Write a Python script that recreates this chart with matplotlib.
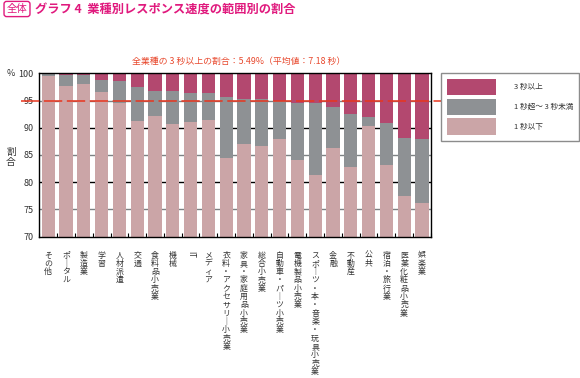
import numpy as np
import matplotlib
matplotlib.use('Agg')
import matplotlib.pyplot as plt

plt.rcParams['font.family'] = ['Noto Sans CJK JP', 'DejaVu Sans']

# data (percent)
categories = ['その他', 'ポータル', '製造業', '学習', '人材派遣', '交通', '食料品小売業',
              '機械', 'IT', 'メディア', '衣料・アクセサリー小売業', '家具・家庭用品小売業',
              '総合小売業', '自動車・パーツ小売業', '電機製品小売業',
              'スポーツ・本・音楽・玩具小売業', '金融', '不動産', '公共', '宿泊・旅行業',
              '医薬化粧品小売業', '娯楽業']
under_1s = [99.6, 97.7, 98.0, 96.6, 94.5, 91.3, 92.2, 90.6, 91.1, 91.4, 84.5,
            87.1, 86.7, 87.9, 84.0, 81.3, 86.3, 82.7, 90.4, 83.2, 77.5, 76.1]
from_1_to_3s = [0.3, 2.0, 1.7, 2.2, 4.1, 6.1, 4.6, 6.2, 5.2, 4.9, 11.2,
                8.1, 8.5, 7.1, 10.6, 13.3, 7.6, 9.8, 1.5, 7.6, 10.7, 11.8]
over_3s = [0.1, 0.3, 0.3, 1.2, 1.4, 2.6, 3.2, 3.2, 3.7, 3.7, 4.3,
           4.8, 4.8, 5.0, 5.4, 5.4, 6.1, 7.5, 8.1, 9.2, 11.8, 12.1]
avg_line = 95
yticks = [70, 75, 80, 85, 90, 95, 100]
legend_labels = ['3 秒以上', '1 秒超～ 3 秒未満', '1 秒以下']

c_over = '#b3486f'
c_mid = '#8e9194'
c_under = '#cba5a7'
pink = '#e0197d'

fig = plt.figure(figsize=(5.8, 3.78), dpi=100)
ax = fig.add_axes([0.0678, 0.374, 0.675, 0.432])

x = np.arange(len(categories))
w = 0.74
u = np.array(under_1s)
m = np.array(from_1_to_3s)
o = np.array(over_3s)
b1 = ax.bar(x, u, w, color=c_under, zorder=2)
b2 = ax.bar(x, m, w, bottom=u, color=c_mid, zorder=2)
b3 = ax.bar(x, o, w, bottom=u + m, color=c_over, zorder=2)

# alternating black / gray grid lines
for yv in yticks[1:-1]:
    ax.axhline(yv, color='black' if yv % 10 == 0 else '#7d8284', lw=1.0, zorder=1)

# red dashed average line, runs out past the axes
ax.axhline(avg_line, xmin=-0.047, xmax=1.026, color='#e8351e', lw=1.1,
           dashes=(12, 3), zorder=3, clip_on=False)

ax.set_xlim(-0.5, len(categories) - 0.5)
ax.set_ylim(70, 100)
ax.set_yticks(yticks)
ax.set_yticklabels([str(t) for t in yticks], fontsize=6.5, color='#333333')
ax.tick_params(axis='y', length=0, pad=4)

ax.set_xticks(x)
ax.set_xticks(np.arange(len(categories) + 1) - 0.5, minor=True)
ax.set_xticklabels(['\n'.join(c.replace('ー', '｜')) for c in categories],
                   fontsize=5.7, color='#333333', va='top', linespacing=0.9)
ax.tick_params(axis='x', which='major', length=0, pad=10)
ax.tick_params(axis='x', which='minor', direction='in', length=3, width=0.8, color='black')
xl = ax.get_xticklabels()
xl[categories.index('IT')].set_text('IT')
xl[categories.index('IT')].set_rotation(-90)
ax.set_xticklabels(xl)

for s in ax.spines.values():
    s.set_color('black')
    s.set_linewidth(1.0)

leg = ax.legend([b3, b2, b1], legend_labels, loc='upper left',
                bbox_to_anchor=(441 / 580, 1 - 73 / 378), bbox_transform=fig.transFigure,
                fontsize=5.5, handlelength=6.4, handleheight=3.0, labelspacing=0.4,
                handletextpad=2.4, borderpad=0.75, borderaxespad=0,
                fancybox=False, frameon=True)
leg.get_frame().set_edgecolor('#707070')
leg.get_frame().set_linewidth(1.0)
for t in leg.get_texts():
    t.set_color('#333333')

# title block
fig.text(17 / 580, 1 - 9 / 378, '全体', fontsize=7.5, color=pink, ha='center', va='center',
         bbox=dict(boxstyle='round,pad=0.25', fc='white', ec=pink, lw=1.0))
fig.text(35 / 580, 1 - 10 / 378, 'グラフ 4  業種別レスポンス速度の範囲別の割合',
         fontsize=8.8, color=pink, fontweight='bold', ha='left', va='center')
fig.text(239 / 580, 1 - 61 / 378, '全業種の 3 秒以上の割合：5.49%（平均値：7.18 秒）',
         fontsize=6.4, color='#e8492e', ha='center', va='center')

fig.text(11 / 580, 1 - 74 / 378, '%', fontsize=6.5, color='#333333', ha='center', va='center')
fig.text(11 / 580, 1 - 157 / 378, '割\n合', fontsize=7, color='#333333', ha='center',
         va='center', linespacing=1.0)

fig.savefig('out.png', dpi=100)
